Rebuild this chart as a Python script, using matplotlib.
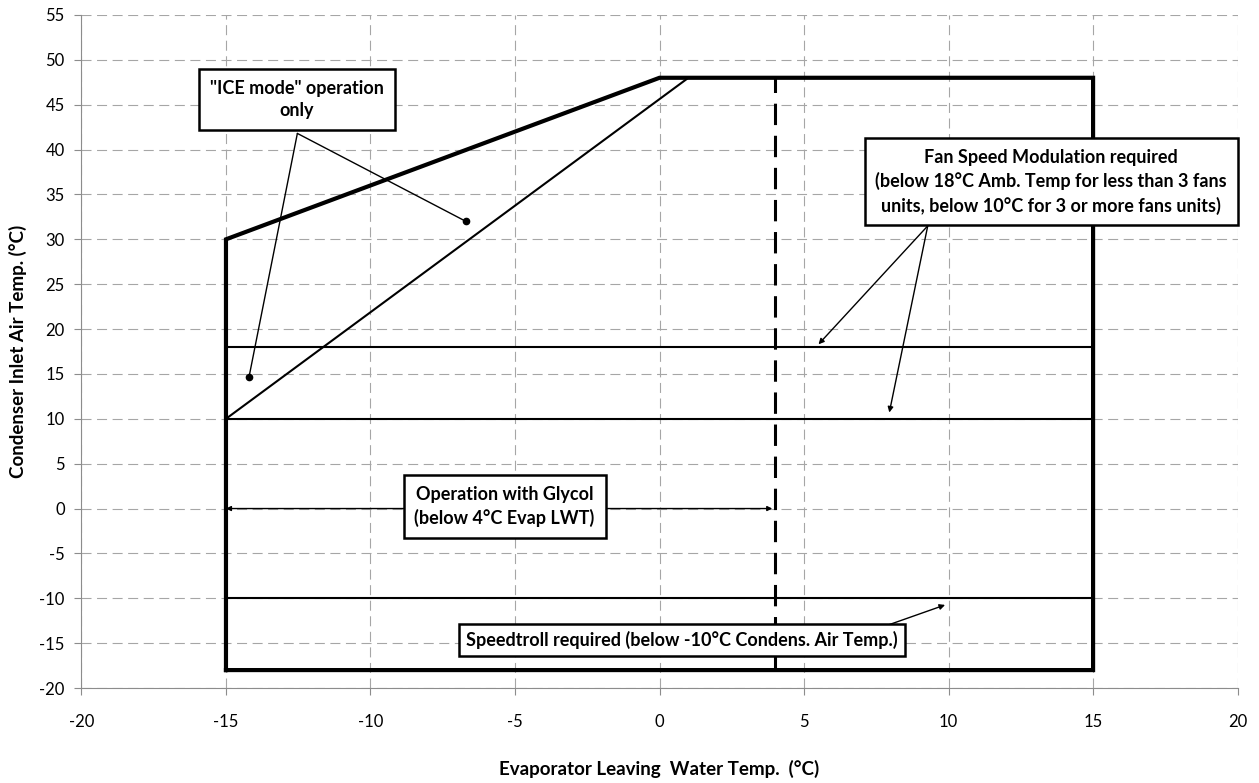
import matplotlib.pyplot as plt

# operating envelope
env_x = [-15, -15, 0, 15, 15, -15]
env_y = [-18, 30, 48, 48, -18, -18]
# ICE mode limit line
ice_x = [-15, 1]
ice_y = [10, 48]
# horizontal limits (fan speed 18 / 10, speedtroll -10)
lim_levels = [18, 10, -10]
lim_x = [-15, 15]
# glycol limit (evap LWT)
gly_x = 4
gly_y = [-18, 48]

plt.rcParams['font.family'] = ['Lato', 'DejaVu Sans']
plt.rcParams['axes.unicode_minus'] = False

fig = plt.figure(figsize=(12.59, 7.83), dpi=100)
ax = fig.add_axes([0.0647, 0.1213, 0.9183, 0.8596])

ax.set_xlim(-20, 20)
ax.set_ylim(-20, 55)
ax.set_xticks(range(-20, 21, 5))
ax.set_yticks(range(-20, 56, 5))
ax.grid(True, color='#a6a6a6', linestyle=(0, (9, 5)), linewidth=0.8)
ax.set_axisbelow(True)
for s in ['top', 'right']:
    ax.spines[s].set_visible(False)
for s in ['left', 'bottom']:
    ax.spines[s].set_color('#8c8c8c')
ax.tick_params(colors='#8c8c8c', labelcolor='black', labelsize=12, length=5)
ax.tick_params(axis='x', pad=14)
ax.tick_params(axis='y', pad=7)

ax.plot(env_x, env_y, color='black', lw=3, solid_joinstyle='miter')
ax.plot(ice_x, ice_y, color='black', lw=1.5)
for lv in lim_levels:
    ax.plot(lim_x, [lv, lv], color='black', lw=1.5)
ax.plot([gly_x, gly_x], gly_y, color='black', lw=2.2, linestyle=(0, (7, 3.5)))

ax.set_xlabel('Evaporator Leaving  Water Temp.  (°C)', fontsize=13.5,
              fontweight='bold', labelpad=21)
ax.set_ylabel('Condenser Inlet Air Temp. (°C)', fontsize=13.5,
              fontweight='bold', labelpad=9)

box = dict(boxstyle='square,pad=0.6', fc='white', ec='black', lw=1.8)
tkw = dict(ha='center', va='center', fontsize=13, fontweight='bold',
           linespacing=1.4, bbox=box, zorder=5)
akw = dict(color='black', lw=1, shrinkA=0, shrinkB=0)

# ICE mode
ax.text(-12.55, 45.6, '"ICE mode" operation\nonly', **tkw)
for px, py in [(-14.2, 14.7), (-6.7, 32.0)]:
    ax.annotate('', xy=(px, py), xytext=(-12.53, 41.8), zorder=4,
                arrowprops=dict(arrowstyle='-', **akw))
    ax.plot(px, py, 'o', color='black', ms=4.5)

# fan speed
ax.text(13.55, 36.4, 'Fan Speed Modulation required\n'
        '(below 18°C Amb. Temp for less than 3 fans\n'
        'units, below 10°C for 3 or more fans units)', **tkw)
for px, py in [(5.5, 18.3), (7.95, 10.7)]:
    ax.annotate('', xy=(px, py), xytext=(9.28, 31.5), zorder=4,
                arrowprops=dict(arrowstyle='-|>', mutation_scale=8, **akw))

# glycol
ax.text(-5.36, 0.25, 'Operation with Glycol\n(below 4°C Evap LWT)', **tkw)
ax.annotate('', xy=(-15, 0), xytext=(-5.36, 0), zorder=4,
            arrowprops=dict(arrowstyle='-|>', mutation_scale=7, **akw))
ax.annotate('', xy=(3.9, 0), xytext=(-5.36, 0), zorder=4,
            arrowprops=dict(arrowstyle='-|>', mutation_scale=7, **akw))

# speedtroll
ax.text(0.78, -14.65, 'Speedtroll required (below -10°C Condens. Air Temp.)',
        ha='center', va='center', fontsize=13, fontweight='bold',
        bbox=dict(boxstyle='square,pad=0.4', fc='white', ec='black', lw=1.8),
        zorder=5)
ax.annotate('', xy=(9.88, -10.74), xytext=(7.45, -13.5), zorder=4,
            arrowprops=dict(arrowstyle='-|>', mutation_scale=8, **akw))

fig.savefig('out.png', dpi=100)
